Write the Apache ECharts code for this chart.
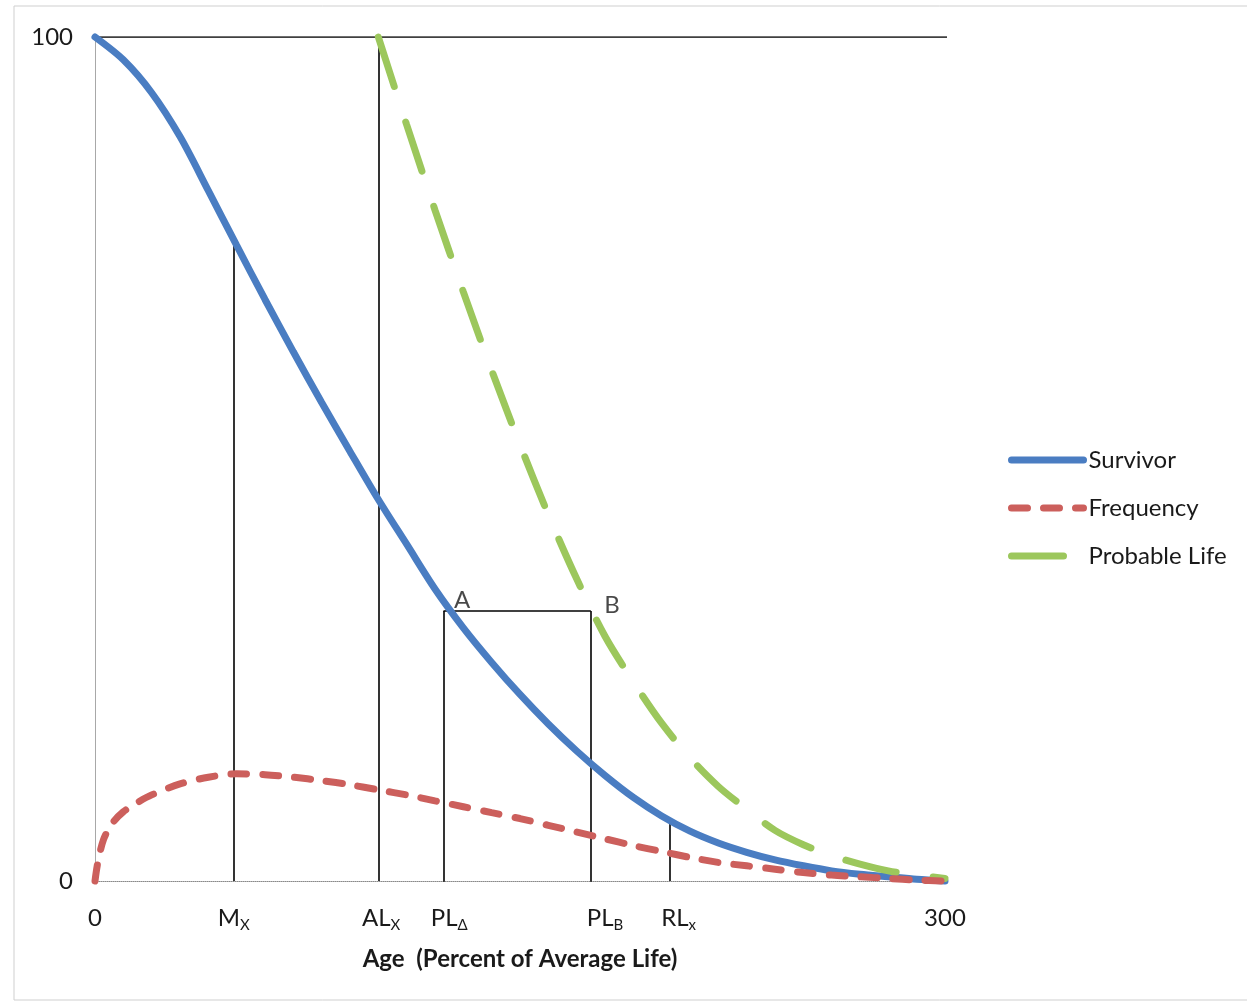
<!DOCTYPE html>
<html>
<head>
<meta charset="utf-8">
<script src="https://cdn.jsdelivr.net/npm/echarts@6/dist/echarts.min.js"></script>
<style>
  html, body { margin: 0; padding: 0; background: #fff; }
  #chart { width: 1247px; height: 1003px; }
</style>
</head>
<body>
<div id="chart"></div>
<script>
// survivor curve, percent surviving vs age (percent of average life)
const ages = [0, 10, 20, 30, 40, 50, 60, 70, 80, 90, 100, 110, 120, 130, 140, 150,
  160, 170, 180, 190, 200, 210, 220, 230, 240, 250, 260, 270, 280, 290, 300]
const survivor = [100, 97.3, 93.4, 88.2, 81.8, 75.3, 68.9, 62.7, 56.7, 50.9, 45.2, 39.9,
  34.6, 30.0, 25.9, 22.1, 18.6, 15.4, 12.5, 9.9, 7.7, 5.9, 4.5, 3.4, 2.5, 1.8, 1.2, 0.8, 0.5, 0.2, 0]

// frequency curve
const freqAges = [0, 1, 3, 6, 10, 15, 20, 30, 40, 50, 60, 70, 80, 90, 100, 110, 120, 130,
  140, 150, 160, 170, 180, 190, 200, 210, 220, 230, 240, 250, 260, 270, 280, 290, 300]
const frequency = [0, 2.2, 4.9, 6.8, 8.2, 9.3, 10.2, 11.5, 12.3, 12.7, 12.6, 12.3, 11.9, 11.4,
  10.8, 10.2, 9.5, 8.8, 8.1, 7.4, 6.6, 5.8, 5.0, 4.2, 3.5, 2.8, 2.2, 1.8, 1.4, 1.0, 0.7, 0.5, 0.3, 0.1, 0]

// probable life curve
const plAges = [100, 110, 120, 130, 140, 150, 160, 170, 180, 190, 200, 210, 220, 230,
  240, 250, 260, 270, 280, 290, 300]
const probable = [100, 89.6, 79.5, 69.8, 60.5, 51.7, 43.4, 35.8, 29.0, 23.6, 18.7, 14.6,
  11.2, 8.5, 6.0, 4.3, 3.0, 2.0, 1.2, 0.7, 0.3]

// construction lines: [x1, y1, x2, y2]
const guideLines = [
  [0, 100, 303, 100],
  [49, 0, 49, 75.6],
  [100, 0, 100, 100],
  [123, -0.8, 123, 32],
  [123, 32, 175, 32],
  [175, -0.8, 175, 32],
  [203, 0, 203, 7]
]

// point labels
const pointNames = ['A', 'B']
const pointXY = [[123, 32], [175, 32]]
const pointOffsets = [[5, -11], [8, -6]]

// x tick labels: position, main text, subscript
const tickValues = [0, 49, 101, 125, 180, 206, 300]
const tickMain = ['0', 'M', 'AL', 'PL', 'PL', 'RL', '300']
const tickSub = ['', 'X', 'X', 'Δ', 'B', 'x', '']

const BLUE = '#4a7dc2'
const RED = '#cc5f5c'
const GREEN = '#9cc75c'
const FONT = 'Lato'

const chart = echarts.init(document.getElementById('chart'), null, { renderer: 'canvas' })

const option = {
  backgroundColor: '#fff',
  animation: false,
  textStyle: { fontFamily: FONT },
  graphic: [{
    type: 'rect',
    shape: { x: 14, y: 6, width: 1240, height: 994 },
    style: { fill: 'none', stroke: '#cfcfcf', lineWidth: 1 },
    silent: true
  }],
  grid: { left: 95, right: 302, top: 37, bottom: 122 },
  legend: {
    data: ['Survivor', 'Frequency', 'Probable Life'],
    orient: 'vertical',
    left: 1008,
    top: 448,
    padding: 0,
    itemWidth: 72,
    itemHeight: 14,
    itemGap: 24,
    itemStyle: { color: 'transparent', borderWidth: 0 },
    lineStyle: { width: 7, cap: 'round' },
    textStyle: { fontFamily: FONT, fontSize: 24, color: '#1a1a1a' }
  },
  xAxis: {
    type: 'value',
    min: 0,
    max: 300,
    name: 'Age  (Percent of Average Life)',
    nameLocation: 'middle',
    nameGap: 66,
    nameTextStyle: { fontFamily: FONT, fontSize: 24, fontWeight: 'bold', color: '#1a1a1a' },
    splitLine: { show: false },
    axisTick: { show: false },
    axisLine: { show: true, lineStyle: { color: '#8a8a8a', width: 1, type: 'dotted' } },
    axisLabel: {
      customValues: tickValues,
      margin: 22,
      formatter: v => {
        const i = tickValues.indexOf(v)
        if (i < 0) return ''
        return tickSub[i] ? `{m|${tickMain[i]}}{s|${tickSub[i]}}` : `{m|${tickMain[i]}}`
      },
      rich: {
        m: { fontFamily: FONT, fontSize: 24, lineHeight: 30, color: '#1a1a1a' },
        s: { fontFamily: FONT, fontSize: 15, lineHeight: 15, verticalAlign: 'bottom', color: '#1a1a1a' }
      }
    }
  },
  yAxis: {
    type: 'value',
    min: 0,
    max: 100,
    interval: 100,
    splitLine: { show: false },
    axisTick: { show: false },
    axisLine: { show: true, lineStyle: { color: '#a8a8a8', width: 1 } },
    axisLabel: { fontFamily: FONT, fontSize: 24, color: '#1a1a1a', margin: 22 }
  },
  series: [
    {
      name: 'guides',
      type: 'lines',
      coordinateSystem: 'cartesian2d',
      silent: true,
      z: 1,
      lineStyle: { color: '#000', width: 1.6, opacity: 1 },
      data: guideLines.map(l => ({ coords: [[l[0], l[1]], [l[2], l[3]]] }))
    },
    {
      name: 'Survivor',
      type: 'line',
      symbol: 'none',
      smooth: 0.3,
      clip: false,
      z: 3,
      color: BLUE,
      lineStyle: { color: BLUE, width: 7, cap: 'round' },
      data: ages.map((a, i) => [a, survivor[i]])
    },
    {
      name: 'Frequency',
      type: 'line',
      symbol: 'none',
      smooth: 0.3,
      clip: false,
      z: 4,
      color: RED,
      lineStyle: { color: RED, width: 7, type: [16, 16], cap: 'round' },
      data: freqAges.map((a, i) => [a, frequency[i]])
    },
    {
      name: 'Probable Life',
      type: 'line',
      symbol: 'none',
      smooth: 0.3,
      clip: false,
      z: 3,
      color: GREEN,
      lineStyle: { color: GREEN, width: 7, type: [52, 37], cap: 'round' },
      data: plAges.map((a, i) => [a, probable[i]])
    },
    {
      name: 'points',
      type: 'scatter',
      silent: true,
      symbolSize: 1,
      itemStyle: { color: 'transparent' },
      z: 5,
      data: pointNames.map((n, i) => ({
        value: pointXY[i],
        label: {
          show: true,
          formatter: n,
          position: 'right',
          distance: 5,
          offset: pointOffsets[i],
          fontFamily: FONT,
          fontSize: 24,
          color: '#1a1a1a'
        }
      }))
    }
  ]
}

chart.setOption(option)
window.addEventListener('resize', () => chart.resize())
</script>
</body>
</html>
